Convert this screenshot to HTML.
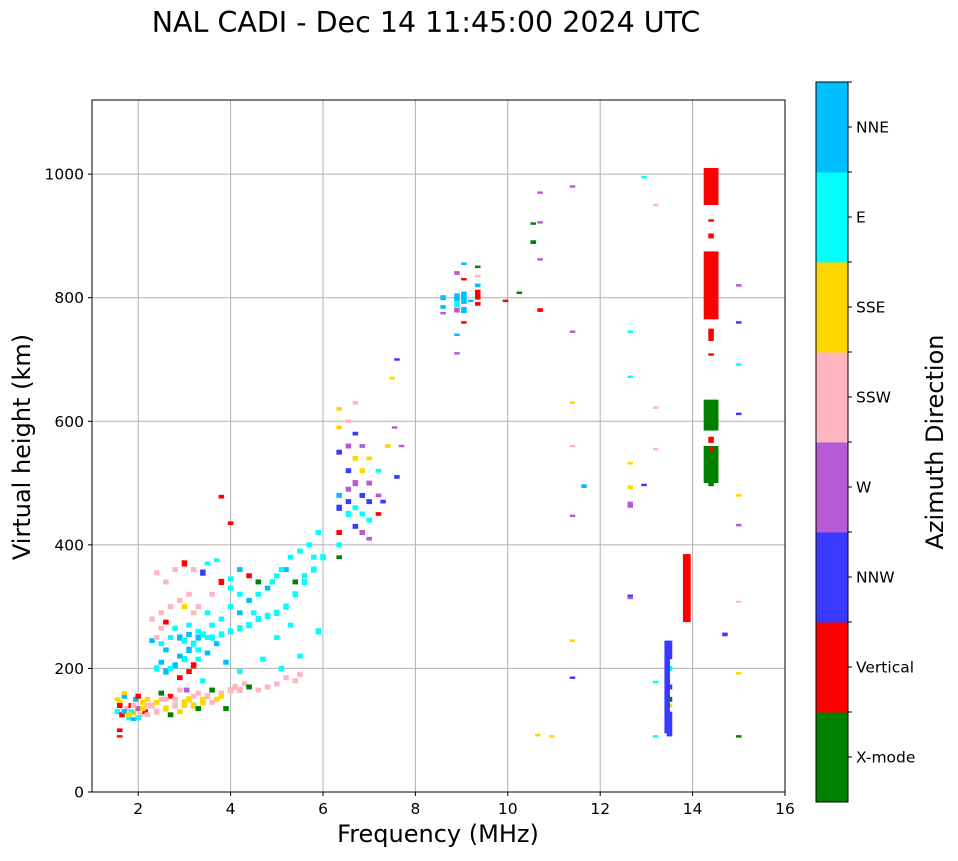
<!DOCTYPE html>
<html><head><meta charset="utf-8"><style>
body{margin:0;background:#fff;font-family:"DejaVu Sans","Liberation Sans",sans-serif}
svg text{font-family:"DejaVu Sans","Liberation Sans",sans-serif}
</style></head><body>
<svg id="chart" width="958" height="857" xmlns="http://www.w3.org/2000/svg">
<text x="426" y="32" font-size="28.5" text-anchor="middle">NAL CADI - Dec 14 11:45:00 2024 UTC</text>
<g id="grid"></g><g id="marks"></g><g id="axes"></g><g id="cbar"></g>
</svg>
<script>
const xTicks=[2,4,6,8,10,12,14,16];
const yTicks=[0,200,400,600,800,1000];
const dirNames=["X-mode","Vertical","NNW","W","SSW","SSE","E","NNE"];
const dirColors=["#008000","#ff0000","#3a3aff","#b65ad6","#ffb6c1","#ffd700","#00ffff","#00bfff"];
// echoes: frequency (MHz), height (km), span (km), direction index — 10 per line
const freqs=[
1.55,1.6,1.65,1.7,1.75,1.8,1.85,1.9,1.95,2.0,
2.05,2.1,2.15,1.6,1.6,1.7,1.85,1.55,2.2,1.9,
2.3,2.4,2.5,2.6,2.7,2.8,2.9,3.0,3.1,3.2,
3.3,3.4,3.5,3.6,3.7,3.8,3.9,4.0,4.1,4.2,
4.3,4.4,4.6,4.8,5.0,5.2,5.4,5.5,2.7,3.05,
2.4,2.6,2.8,3.0,3.1,3.2,3.3,3.4,3.6,3.8,
4.0,4.2,4.4,4.6,4.8,5.0,5.2,5.4,5.6,5.8,
6.0,5.9,5.5,5.1,4.7,4.2,3.9,2.9,3.2,3.4,
2.4,2.6,2.8,3.0,3.2,3.4,3.6,3.8,4.0,4.2,
4.4,4.6,4.8,5.0,5.2,5.4,5.6,5.8,3.0,3.2,
2.6,2.8,3.1,3.3,3.5,4.5,5.0,5.3,3.8,4.0,
6.35,6.35,6.35,6.35,6.35,6.35,6.35,6.35,6.55,6.55,
6.55,6.55,6.55,6.55,6.7,6.7,6.7,6.7,6.7,6.7,
6.85,6.85,6.85,6.85,6.85,7.0,7.0,7.0,7.0,7.2,
7.2,7.2,7.3,7.4,7.5,7.55,7.6,7.7,7.6,7.0,
8.6,8.6,8.6,8.9,8.9,8.9,8.9,8.9,8.9,9.05,
9.05,9.05,9.05,9.05,9.35,9.35,9.35,9.35,9.2,9.35,
9.95,10.25,10.55,10.55,10.7,10.7,10.7,10.7,10.65,10.95,
11.4,11.4,11.4,11.4,11.4,11.4,11.4,11.65,12.65,12.65,
12.65,12.65,12.65,12.65,12.65,12.95,12.95,13.2,13.2,13.2,
13.2,13.2,13.5,13.5,13.5,13.5,13.5,13.5,13.9,14.4,
14.4,14.4,14.4,14.4,14.4,14.4,14.4,14.4,14.4,14.4,
15.0,15.0,15.0,15.0,15.0,15.0,15.0,15.0,15.0,14.7,
2.3,2.5,2.6,2.7,2.9,3.0,3.1,3.3,3.5,3.7,
2.5,2.7,2.9,3.1,3.3,3.5,3.6,3.8,4.0,4.2,
2.3,2.5,2.7,2.9,3.1,3.3,2.5,2.4,3.5,3.7,
1.6,1.7,1.8,1.9,2.0,2.1,2.2,2.4,2.6,2.8,
3.0,3.2,3.4,3.6,3.8,2.5,2.9,3.3,2.2,2.0,
4.0,4.2,4.4,4.6,4.9,5.1,5.3,5.5,5.7,5.9,
14.3,14.5,14.3,14.5,14.3,14.5,14.3,14.5,13.85,13.45];
const heights=[
130,145,125,155,135,120,140,128,150,135,
125,145,130,100,90,160,130,150,140,118,
140,130,150,135,155,140,130,145,150,140,
160,145,155,165,150,160,135,165,170,165,
175,170,165,170,175,185,180,190,125,165,
200,195,205,215,230,240,250,255,250,255,
260,265,270,280,285,290,300,320,340,360,
380,260,220,200,215,195,210,185,205,180,
355,340,360,370,360,355,320,340,345,360,
350,340,330,350,360,340,350,380,300,290,
275,265,270,230,290,290,250,270,478,435,
380,400,420,460,480,550,590,620,450,470,
490,520,560,600,430,460,500,540,580,630,
420,450,480,520,560,440,470,500,540,450,
480,520,470,560,670,590,700,560,510,410,
800,785,775,800,790,780,840,710,740,800,
780,760,855,830,805,790,820,835,795,850,
795,808,890,920,970,922,862,780,92,90,
980,745,630,560,447,245,185,495,745,672,
532,493,465,315,318,497,995,950,622,555,
178,90,230,200,170,150,140,110,330,980,
820,740,708,900,925,610,570,530,500,555,
820,760,692,612,480,432,308,192,90,255,
245,240,230,250,250,245,255,260,250,240,
210,200,220,195,215,225,270,280,300,290,
280,290,300,310,320,300,265,250,370,375,
140,130,125,140,120,135,125,145,150,150,
140,155,150,145,155,160,165,135,150,155,
330,320,310,320,340,360,380,390,400,420,
980,980,820,820,610,610,530,530,330,170];
const spans=[
8,8,8,8,8,8,8,8,8,8,
8,8,8,6,4,6,8,6,8,6,
10,10,8,10,8,10,8,10,10,10,
8,10,10,8,8,8,8,10,10,10,
8,8,8,8,8,8,8,8,8,8,
10,10,10,10,10,10,10,10,10,10,
10,10,10,10,10,10,10,10,10,10,
10,10,8,8,8,8,8,8,10,8,
8,8,8,10,8,10,8,10,8,8,
8,8,8,8,8,8,8,8,8,8,
8,8,8,8,8,8,8,8,6,6,
6,8,8,10,8,8,6,6,10,8,
8,8,8,6,8,8,10,8,6,6,
8,8,8,8,6,8,8,8,6,6,
6,6,6,6,4,4,4,4,6,6,
8,6,4,14,10,8,6,4,4,20,
10,4,4,4,16,6,6,4,4,4,
4,4,6,4,4,4,4,6,4,4,
4,4,4,4,4,4,4,6,4,4,
4,6,10,6,3,4,4,4,4,4,
4,4,30,8,8,8,6,40,110,60,
110,20,4,8,4,50,10,60,10,8,
4,4,4,4,4,4,3,4,4,6,
8,8,8,8,10,10,8,8,8,8,
8,8,8,8,8,8,8,8,8,8,
8,8,8,8,8,8,8,8,6,6,
8,8,8,8,8,8,8,8,8,8,
8,8,8,8,8,8,8,8,8,8,
8,8,8,8,8,8,8,8,8,8,
60,60,110,110,50,50,60,60,110,150];
const dirs=[
6,5,1,7,4,6,1,5,7,3,
4,5,1,1,1,5,6,5,4,7,
4,4,4,5,1,4,5,5,5,5,
4,5,4,0,5,4,0,4,4,4,
4,0,4,4,4,4,4,4,0,3,
6,7,7,6,7,6,7,6,6,6,
6,6,6,6,6,6,6,6,6,6,
6,6,6,6,6,6,7,1,1,6,
4,4,4,1,4,2,4,1,6,7,
1,0,7,6,7,0,6,6,5,4,
1,6,6,6,6,6,6,6,1,1,
0,6,1,2,7,2,5,5,6,2,
3,2,3,4,2,6,3,5,2,4,
3,6,2,5,3,6,2,3,5,1,
3,6,2,5,5,3,2,3,2,3,
7,7,3,7,6,3,3,3,7,7,
7,1,7,1,1,1,7,4,7,0,
1,0,0,0,3,3,3,1,5,5,
3,3,5,4,3,5,2,7,6,6,
5,5,3,3,2,2,6,4,4,4,
6,6,2,6,2,0,5,2,1,1,
1,1,1,1,1,0,1,0,0,1,
3,2,6,2,5,3,4,5,0,2,
7,6,7,6,7,6,7,6,6,7,
7,6,7,1,6,7,6,6,6,7,
4,4,4,4,4,4,4,4,6,6,
1,7,5,4,6,5,4,5,4,4,
5,4,5,4,5,0,4,0,5,1,
6,6,7,6,6,6,6,6,6,6,
1,1,1,1,0,0,0,0,1,2];
const x0=92,x1=785,y0=792,y1=100;
const X=f=>x0+(f-1)*(x1-x0)/15;
const Y=h=>y0-h*(y0-y1)/1120;
const NS="http://www.w3.org/2000/svg";
function mk(t,a,p){const e=document.createElementNS(NS,t);for(const k in a)e.setAttribute(k,a[k]);p.appendChild(e);return e;}
const grid=document.getElementById('grid'),marks=document.getElementById('marks'),axes=document.getElementById('axes'),cb=document.getElementById('cbar');
xTicks.forEach(t=>{const x=X(t);
 const g=mk('line',{x1:x,x2:x,y1:y1,y2:y0,stroke:'#b0b0b0','stroke-width':1},grid);
 
 
 mk('line',{x1:x,x2:x,y1:y0,y2:y0+4,stroke:'#000'},axes);
 const l=mk('text',{x:x,y:y0+22,'font-size':15.5,'text-anchor':'middle'},axes);l.textContent=t;
 
 
});
yTicks.forEach(t=>{const y=Y(t);
 const g=mk('line',{x1:x0,x2:x1,y1:y,y2:y,stroke:'#b0b0b0','stroke-width':1},grid);
 
 
 mk('line',{x1:x0-4,x2:x0,y1:y,y2:y,stroke:'#000'},axes);
 const l=mk('text',{x:x0-8,y:y+5.5,'font-size':15.5,'text-anchor':'end'},axes);l.textContent=t;
 
 
});
freqs.forEach((f,i)=>{
 const r=mk('rect',{x:X(f-0.06),y:Y(heights[i]+spans[i]/2),width:X(f+0.06)-X(f-0.06),height:Math.max(2,Y(0)-Y(spans[i])),fill:dirColors[dirs[i]]},marks);
 
 
});
const fr=mk('rect',{x:x0,y:y1,width:x1-x0,height:y0-y1,fill:'none',stroke:'#000'},axes);


let t=mk('text',{x:438,y:842,'font-size':24,'text-anchor':'middle'},axes);t.textContent='Frequency (MHz)';


t=mk('text',{x:30,y:447,'font-size':24,'text-anchor':'middle',transform:'rotate(-90 30 447)'},axes);t.textContent='Virtual height (km)';


const cx=816,cw=32,cTop=82,cBot=802,bh=(cBot-cTop)/8;
dirNames.forEach((n,i)=>{const yb=cBot-(i+1)*bh;
 const r=mk('rect',{x:cx,y:yb,width:cw,height:bh+0.5,fill:dirColors[i]},cb);
 
 
 mk('line',{x1:cx+cw,x2:cx+cw+4,y1:yb+bh/2,y2:yb+bh/2,stroke:'#000'},cb);
 mk('line',{x1:cx+cw,x2:cx+cw+4,y1:yb,y2:yb,stroke:'#000'},cb);
 const l=mk('text',{x:cx+cw+8,y:yb+bh/2+5.5,'font-size':15.5},cb);l.textContent=n;
 
 
});
mk('rect',{x:cx,y:cTop,width:cw,height:cBot-cTop,fill:'none',stroke:'#000'},cb);
t=mk('text',{x:943,y:442,'font-size':24,'text-anchor':'middle',transform:'rotate(-90 943 442)'},cb);t.textContent='Azimuth Direction';


</script>
</body></html>
